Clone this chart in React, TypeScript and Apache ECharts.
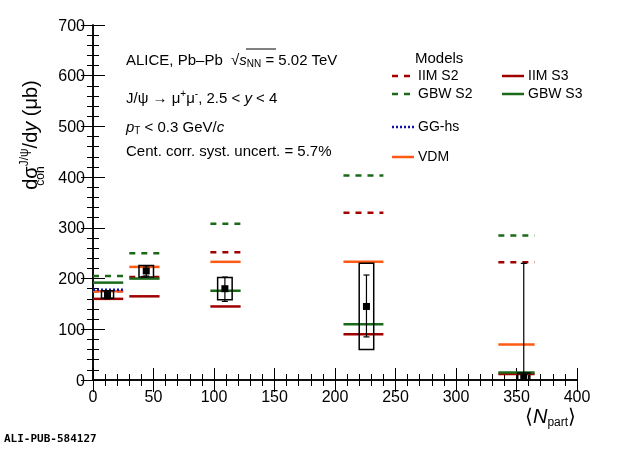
import { useEffect, useRef } from 'react'
import * as echarts from 'echarts'

// measured points: x, y, statLo, statHi, sysLo, sysHi, box half-width
const points = [
  [12, 168, 160, 176, 161, 176, 5],
  [44, 215, 205, 225, 203, 226, 6],
  [109, 180, 155, 203, 158, 202, 6],
  [226, 145, 85, 207, 60, 230, 6],
  [356, 5, 0, 230, 0, 14, 5]
]
// model bins: x0, x1
const bins = [[0, 25], [30, 55], [97, 122], [207, 240], [335, 365]]
const iimS2 = [175, 203, 252, 330, 232]
const iimS3 = [160, 165, 145, 90, 12]
const gbwS2 = [205, 250, 308, 403, 285]
const gbwS3 = [192, 200, 176, 110, 15]
const ggHs = [178, null, null, null, null]
const vdm = [175, 223, 233, 233, 70]

const models = [
  { name: 'IIM S2', vals: iimS2, color: '#a00000', dash: [6, 6] },
  { name: 'IIM S3', vals: iimS3, color: '#a00000', dash: null },
  { name: 'GBW S2', vals: gbwS2, color: '#1a6a1a', dash: [6, 6] },
  { name: 'GBW S3', vals: gbwS3, color: '#1a6a1a', dash: null },
  { name: 'VDM', vals: vdm, color: '#ff5a14', dash: null },
  { name: 'GG-hs', vals: ggHs, color: '#1010b0', dash: [2, 2] }
]

const App: React.FC = () => {
  const ref = useRef<HTMLDivElement>(null)
  useEffect(() => {
    if (!ref.current) return
    const chart = echarts.init(ref.current, null, { renderer: 'svg' })
    const font = 'Liberation Sans'
    const modelSeries = models.map(m => ({
      type: 'custom',
      name: m.name,
      data: bins.map((b, i) => [b[0], b[1], m.vals[i]]).filter(d => d[2] != null),
      renderItem: (_p: any, api: any) => {
        const a = api.coord([api.value(0), api.value(2)])
        const b = api.coord([api.value(1), api.value(2)])
        return {
          type: 'line',
          shape: { x1: a[0], y1: a[1], x2: b[0], y2: b[1] },
          style: { stroke: m.color, lineWidth: 2.5, lineDash: m.dash || undefined }
        }
      },
      z: 2
    }))
    const dataSeries = {
      type: 'custom',
      data: points,
      z: 5,
      renderItem: (_p: any, api: any) => {
        const x = api.value(0)
        const hw = api.value(6)
        const c = api.coord([x, api.value(1)])
        const sLo = api.coord([x, api.value(2)])
        const sHi = api.coord([x, api.value(3)])
        const bLo = api.coord([x - hw, api.value(4)])
        const bHi = api.coord([x + hw, api.value(5)])
        return {
          type: 'group',
          children: [
            { type: 'rect', shape: { x: bLo[0], y: bHi[1], width: bHi[0] - bLo[0], height: bLo[1] - bHi[1] },
              style: { fill: 'none', stroke: '#000', lineWidth: 1.5 } },
            { type: 'line', shape: { x1: c[0], y1: sLo[1], x2: c[0], y2: sHi[1] }, style: { stroke: '#000', lineWidth: 1.2 } },
            { type: 'line', shape: { x1: c[0] - 3, y1: sLo[1], x2: c[0] + 3, y2: sLo[1] }, style: { stroke: '#000', lineWidth: 1.2 } },
            { type: 'line', shape: { x1: c[0] - 3, y1: sHi[1], x2: c[0] + 3, y2: sHi[1] }, style: { stroke: '#000', lineWidth: 1.2 } },
            { type: 'rect', shape: { x: c[0] - 3.5, y: c[1] - 3.5, width: 7, height: 7 }, style: { fill: '#000' } }
          ]
        }
      }
    }
    const axisCommon = {
      axisLine: { lineStyle: { color: '#000', width: 1.5 } },
      axisTick: { inside: true, length: 12, lineStyle: { color: '#000' } },
      minorTick: { show: true, splitNumber: 5, length: 6, lineStyle: { color: '#000' } },
      splitLine: { show: false },
      axisLabel: { color: '#000', fontSize: 16, fontFamily: font }
    }
    const legendItems: any[] = []
    const leg = [
      ['IIM S2', 392, 76], ['IIM S3', 502, 76], ['GBW S2', 392, 94], ['GBW S3', 502, 94],
      ['GG-hs', 392, 127], ['VDM', 392, 157]
    ]
    leg.forEach(([n, x, y]) => {
      const m = models.find(mm => mm.name === n)!
      legendItems.push({ type: 'line', shape: { x1: x, y1: y, x2: (x as number) + 22, y2: y },
        style: { stroke: m.color, lineWidth: 2.5, lineDash: m.dash || undefined } })
      legendItems.push({ type: 'text', x: (x as number) + 26, y: (y as number) - 8,
        style: { text: n, font: `14px ${font}`, fill: '#000' } })
    })
    chart.setOption({
      animation: false,
      grid: { left: 93, right: 43, top: 25, bottom: 69 },
      xAxis: [
        { type: 'value', min: 0, max: 400, interval: 50, ...axisCommon, axisLabel: { ...axisCommon.axisLabel, margin: 8 } },
        { type: 'value', min: 0, max: 400, interval: 50, position: 'top', ...axisCommon, axisLabel: { show: false } }
      ],
      yAxis: [
        { type: 'value', min: 0, max: 700, interval: 100, ...axisCommon },
        { type: 'value', min: 0, max: 700, interval: 100, position: 'right', ...axisCommon, axisLabel: { show: false } }
      ],
      series: [...modelSeries, dataSeries],
      graphic: [
        { type: 'text', x: 126, y: 50, style: {
          text: '{n|ALICE, Pb–Pb  √}{o|s}{b|NN}{n| = 5.02 TeV}',
          rich: { n: { font: `15px ${font}` }, o: { font: `italic 15px ${font}`, borderColor: '#000' }, b: { font: `10px ${font}`, padding: [8, 0, 0, 0] } }, fill: '#000' } },
        { type: 'line', shape: { x1: 246, y1: 49, x2: 276, y2: 49 }, style: { stroke: '#000', lineWidth: 1 } },
        { type: 'text', x: 126, y: 88, style: {
          text: '{n|J/ψ → μ}{s|+}{n|μ}{s|-}{n|, 2.5 < }{i|y}{n| < 4}',
          rich: { n: { font: `15px ${font}` }, s: { font: `10px ${font}`, verticalAlign: 'top', padding: [0, 0, 8, 0] }, i: { font: `italic 15px ${font}` } }, fill: '#000' } },
        { type: 'text', x: 126, y: 117, style: {
          text: '{i|p}{b|T}{n| < 0.3 GeV/}{i|c}',
          rich: { n: { font: `15px ${font}` }, b: { font: `10px ${font}`, padding: [8, 0, 0, 0] }, i: { font: `italic 15px ${font}` } }, fill: '#000' } },
        { type: 'text', x: 126, y: 143, style: { text: 'Cent. corr. syst. uncert. = 5.7%', font: `15px ${font}`, fill: '#000' } },
        { type: 'text', x: 415, y: 50, style: { text: 'Models', font: `15px ${font}`, fill: '#000' } },
        ...legendItems,
        { type: 'text', x: 30, y: 135, rotation: Math.PI / 2,
          style: { text: '{n|dσ}{s|J/ψ}{n|/d}{i|y}{n| (μb)}', align: 'center', verticalAlign: 'middle',
            rich: { n: { font: `20px ${font}` }, s: { font: `12px ${font}`, padding: [0, 0, 12, 0] }, i: { font: `italic 20px ${font}` } }, fill: '#000' } },
        { type: 'text', x: 40, y: 176, rotation: Math.PI / 2,
          style: { text: 'coh', font: `12px ${font}`, fill: '#000', align: 'center', verticalAlign: 'middle' } },
        { type: 'text', x: 525, y: 404, style: {
          text: '{n|⟨}{i|N}{s|part}{n|⟩}',
          rich: { n: { font: `20px ${font}` }, i: { font: `italic 20px ${font}` }, s: { font: `12px ${font}`, padding: [12, 0, 0, 0] } }, fill: '#000' } },
        { type: 'text', x: 4, y: 433, style: { text: 'ALI-PUB-584127', font: `bold 11px DejaVu Sans Mono`, fill: '#000' } }
      ]
    })
    return () => chart.dispose()
  }, [])
  return <div ref={ref} style={{ width: 620, height: 449, position: 'fixed', left: 0, top: 0 }} />
}
export default App
